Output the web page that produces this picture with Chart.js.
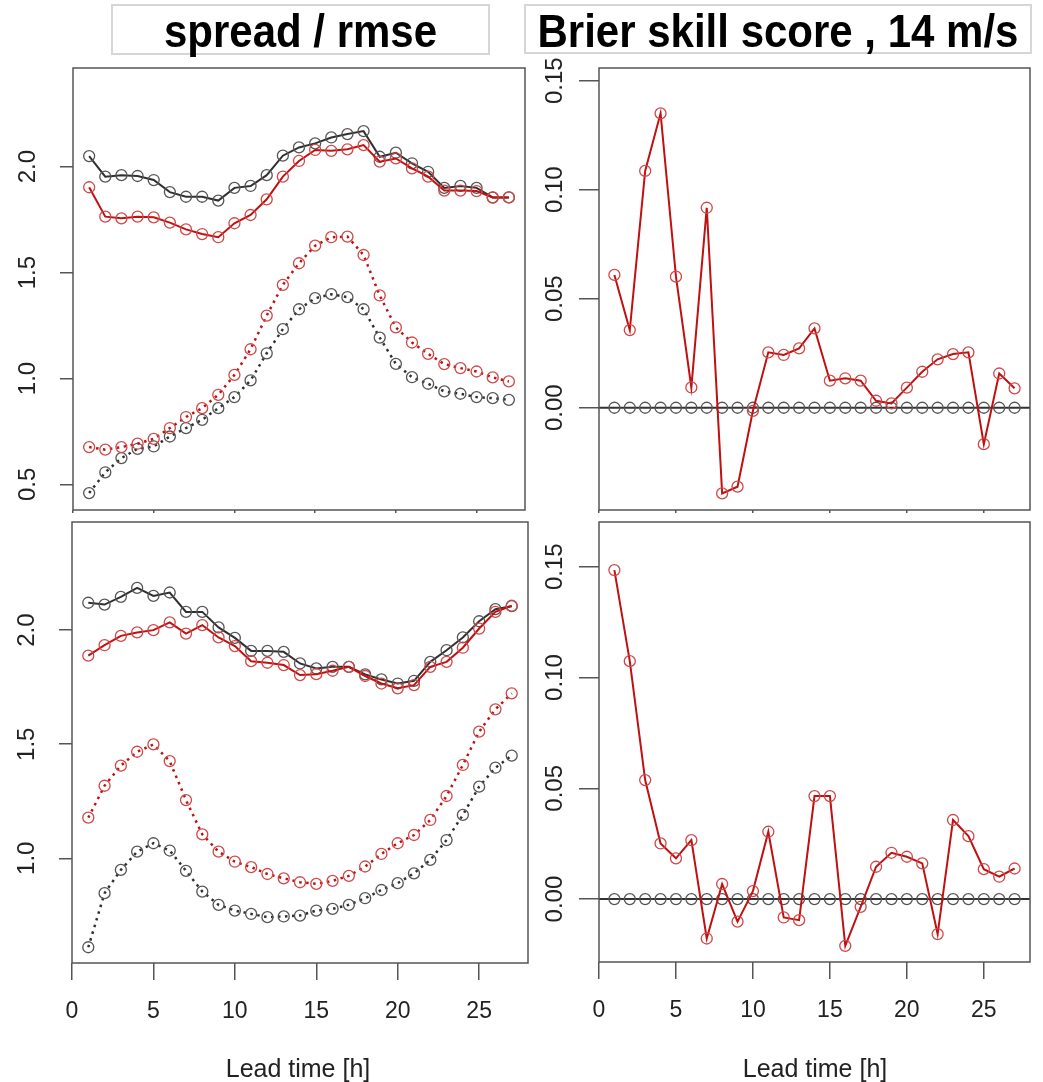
<!DOCTYPE html>
<html>
<head>
<meta charset="utf-8">
<script src="https://cdn.jsdelivr.net/npm/chart.js@4.4.0/dist/chart.umd.min.js"></script>
<style>
  body { margin: 0; background: #fff; width: 1043px; height: 1082px; position: relative; overflow: hidden;
         font-family: "Liberation Sans", Arial, sans-serif; }
  canvas { position: absolute; }
  .ttl { position: absolute; border: 2px solid #d6d6d6; font-weight: bold; font-size: 42px; text-align: center;
         color: #000; box-sizing: border-box; line-height: 50px; background: #fff; z-index: 2; }
  .ttl span { display: inline-block; transform: scaleY(1.12); }
  .xt { position: absolute; font-size: 25px; color: #222; text-align: center; width: 300px; }
</style>
</head>
<body>
<div class="ttl" style="left:111px;top:4px;width:379px;height:51px"><span>spread / rmse</span></div>
<div class="ttl" style="left:524px;top:4px;width:508px;height:50px"><span>Brier skill score , 14 m/s</span></div>

<canvas id="tl" width="555" height="480" style="left:0px;top:38px"></canvas>
<canvas id="tr" width="513" height="480" style="left:530px;top:38px"></canvas>
<canvas id="bl" width="555" height="590" style="left:0px;top:492px"></canvas>
<canvas id="br" width="513" height="590" style="left:530px;top:492px"></canvas>

<div class="xt" style="left:148px;top:1054px">Lead time [h]</div>
<div class="xt" style="left:665px;top:1054px">Lead time [h]</div>

<script>
// lead time in hours
const leadTime = [1, 2, 3, 4, 5, 6, 7, 8, 9, 10, 11, 12, 13, 14, 15, 16, 17, 18, 19, 20, 21, 22, 23, 24, 25, 26, 27];

// top row
const topRmseRef   = [2.05, 1.953, 1.96, 1.956, 1.937, 1.88, 1.858, 1.858, 1.84, 1.90, 1.909, 1.96, 2.052, 2.091, 2.11, 2.138, 2.154, 2.168, 2.047, 2.066, 2.016, 1.976, 1.90, 1.909, 1.90, 1.855, 1.855];
const topRmseExp   = [1.903, 1.764, 1.756, 1.764, 1.761, 1.736, 1.704, 1.682, 1.667, 1.733, 1.772, 1.846, 1.953, 2.027, 2.079, 2.075, 2.082, 2.102, 2.024, 2.039, 1.992, 1.953, 1.887, 1.887, 1.885, 1.854, 1.855];
const topSpreadExp = [0.676, 0.664, 0.676, 0.692, 0.715, 0.766, 0.818, 0.86, 0.923, 1.017, 1.138, 1.297, 1.442, 1.544, 1.627, 1.667, 1.670, 1.583, 1.392, 1.241, 1.170, 1.116, 1.068, 1.049, 1.033, 1.005, 0.986];
const topSpreadRef = [0.459, 0.557, 0.624, 0.668, 0.679, 0.726, 0.766, 0.805, 0.86, 0.912, 0.991, 1.119, 1.233, 1.327, 1.379, 1.398, 1.384, 1.327, 1.193, 1.069, 1.006, 0.975, 0.939, 0.928, 0.912, 0.907, 0.899];
const topBss       = [0.0609, 0.0356, 0.1086, 0.135, 0.0601, 0.0093, 0.0917, -0.0393, -0.0362, -0.0014, 0.0254, 0.0242, 0.0272, 0.0364, 0.0124, 0.0135, 0.0124, 0.0032, 0.002, 0.0092, 0.0165, 0.0222, 0.0246, 0.0254, -0.0167, 0.0157, 0.0089];

// bottom row
const botRmseRef   = [2.12, 2.112, 2.146, 2.185, 2.15, 2.165, 2.08, 2.08, 2.012, 1.966, 1.909, 1.909, 1.905, 1.854, 1.832, 1.839, 1.839, 1.806, 1.784, 1.766, 1.778, 1.861, 1.912, 1.968, 2.039, 2.092, 2.105];
const botRmseExp   = [1.888, 1.934, 1.975, 1.99, 2.0, 2.034, 1.985, 2.022, 1.968, 1.93, 1.864, 1.857, 1.847, 1.803, 1.807, 1.822, 1.839, 1.799, 1.766, 1.745, 1.759, 1.839, 1.861, 1.923, 2.007, 2.08, 2.107];
const botSpreadExp = [1.178, 1.318, 1.406, 1.467, 1.499, 1.426, 1.255, 1.105, 1.029, 0.985, 0.961, 0.931, 0.912, 0.895, 0.888, 0.901, 0.923, 0.964, 1.019, 1.066, 1.102, 1.168, 1.273, 1.409, 1.555, 1.653, 1.723];
const botSpreadRef = [0.61, 0.847, 0.949, 1.029, 1.066, 1.034, 0.945, 0.854, 0.796, 0.771, 0.756, 0.742, 0.745, 0.749, 0.771, 0.778, 0.796, 0.825, 0.861, 0.891, 0.934, 0.993, 1.08, 1.19, 1.314, 1.397, 1.45];
const botBss       = [0.1485, 0.1074, 0.0537, 0.0251, 0.0184, 0.0266, -0.0178, 0.0068, -0.0102, 0.0036, 0.0304, -0.0083, -0.0095, 0.0465, 0.0465, -0.0211, -0.0035, 0.0146, 0.0209, 0.0191, 0.0161, -0.0158, 0.0357, 0.0284, 0.0135, 0.0101, 0.0138];

// reference forecast BSS (always zero)
const refBss = [0, 0, 0, 0, 0, 0, 0, 0, 0, 0, 0, 0, 0, 0, 0, 0, 0, 0, 0, 0, 0, 0, 0, 0, 0, 0, 0];

// tick labels
const xTicks = [0, 5, 10, 15, 20, 25];
const spreadTicksTop = [0.5, 1.0, 1.5, 2.0];
const spreadTicksBot = [1.0, 1.5, 2.0];
const bssTicks = [0.00, 0.05, 0.10, 0.15];

const RED = '#c01010', RED_PT = '#d04848', BLK = '#303030', BLK_PT = '#555555';
const FONT = '"Liberation Sans", Arial, sans-serif';

function series(values, line, pt, dotted, noLine) {
  return {
    data: leadTime.map((x, i) => ({ x: x, y: values[i] })),
    borderColor: line,
    borderWidth: dotted ? 2.5 : 2,
    borderDash: dotted ? [2.5, 4.5] : [],
    showLine: !noLine,
    tension: 0,
    fill: false,
    pointStyle: 'circle',
    pointRadius: 5.5,
    pointBorderColor: pt,
    pointBorderWidth: 1.3,
    pointBackgroundColor: 'rgba(0,0,0,0)'
  };
}

const framePlugin = {
  id: 'frame',
  beforeDatasetsDraw(chart, args, opts) {
    if (!opts.zeroLine) return;
    const a = chart.chartArea, ctx = chart.ctx;
    const y = chart.scales.y.getPixelForValue(0);
    ctx.save();
    ctx.strokeStyle = '#333';
    ctx.lineWidth = 2;
    ctx.beginPath();
    ctx.moveTo(a.left, y);
    ctx.lineTo(a.right, y);
    ctx.stroke();
    ctx.restore();
  },
  afterDraw(chart) {
    const a = chart.chartArea, ctx = chart.ctx;
    ctx.save();
    ctx.strokeStyle = '#555';
    ctx.lineWidth = 1.5;
    ctx.strokeRect(a.left, a.top, a.right - a.left, a.bottom - a.top);
    ctx.restore();
  }
};

function panel(id, p) {
  new Chart(document.getElementById(id), {
    type: 'line',
    data: { datasets: p.datasets },
    plugins: [framePlugin],
    options: {
      responsive: false,
      animation: false,
      devicePixelRatio: 1,
      events: [],
      layout: { padding: { left: 0, top: 30, right: p.padRight, bottom: 0 } },
      plugins: { legend: { display: false }, tooltip: { enabled: false }, frame: { zeroLine: p.zeroLine } },
      scales: {
        x: {
          type: 'linear', min: 0, max: 28,
          afterBuildTicks: s => { s.ticks = xTicks.map(v => ({ value: v })); },
          afterFit: s => { s.height = p.xHeight; s.paddingLeft = 0; s.paddingRight = 0; },
          border: { display: false },
          grid: { drawOnChartArea: false, drawTicks: true, tickLength: p.xTickLen, color: '#555', lineWidth: 1.5 },
          ticks: { display: p.showX, padding: 18, color: '#222', maxRotation: 0, autoSkip: false,
                   font: { size: 23, family: FONT } }
        },
        y: {
          type: 'linear', min: p.yMin, max: p.yMax,
          afterBuildTicks: s => { s.ticks = p.yTicks.map(v => ({ value: v })); },
          afterFit: s => { s.width = p.yWidth; s.paddingTop = 0; s.paddingBottom = 0; },
          border: { display: false },
          grid: { drawOnChartArea: false, drawTicks: true, tickLength: p.yTickLen, color: '#555', lineWidth: 1.5 },
          ticks: { minRotation: 90, maxRotation: 90, crossAlign: 'center', padding: p.yPad, color: '#222',
                   autoSkip: false, font: { size: 24, family: FONT },
                   callback: v => v.toFixed(p.dec) }
        }
      }
    }
  });
}

panel('tl', {
  datasets: [
    series(topRmseExp, RED, RED_PT, false),
    series(topSpreadExp, RED, RED_PT, true),
    series(topRmseRef, BLK, BLK_PT, false),
    series(topSpreadRef, BLK, BLK_PT, true)
  ],
  yMin: 0.379, yMax: 2.466, yTicks: spreadTicksTop, dec: 1,
  yWidth: 73, yTickLen: 13, yPad: 15, padRight: 30, xHeight: 8, xTickLen: 3, showX: false
});

panel('tr', {
  datasets: [
    series(topBss, RED, RED_PT, false),
    series(refBss, BLK, BLK_PT, false, true)
  ],
  yMin: -0.0469, yMax: 0.1558, yTicks: bssTicks, dec: 2, zeroLine: true,
  yWidth: 69, yTickLen: 20, yPad: 0, padRight: 13, xHeight: 8, xTickLen: 3, showX: false
});

panel('bl', {
  datasets: [
    series(botRmseExp, RED, RED_PT, false),
    series(botSpreadExp, RED, RED_PT, true),
    series(botRmseRef, BLK, BLK_PT, false),
    series(botSpreadRef, BLK, BLK_PT, true)
  ],
  yMin: 0.541, yMax: 2.474, yTicks: spreadTicksBot, dec: 1,
  yWidth: 72, yTickLen: 13, yPad: 15, padRight: 27, xHeight: 119, xTickLen: 17, showX: true
});

panel('br', {
  datasets: [
    series(botBss, RED, RED_PT, false),
    series(refBss, BLK, BLK_PT, false, true)
  ],
  yMin: -0.0284, yMax: 0.1702, yTicks: bssTicks, dec: 2, zeroLine: true,
  yWidth: 69, yTickLen: 20, yPad: 0, padRight: 13, xHeight: 120, xTickLen: 17, showX: true
});
</script>
</body>
</html>
